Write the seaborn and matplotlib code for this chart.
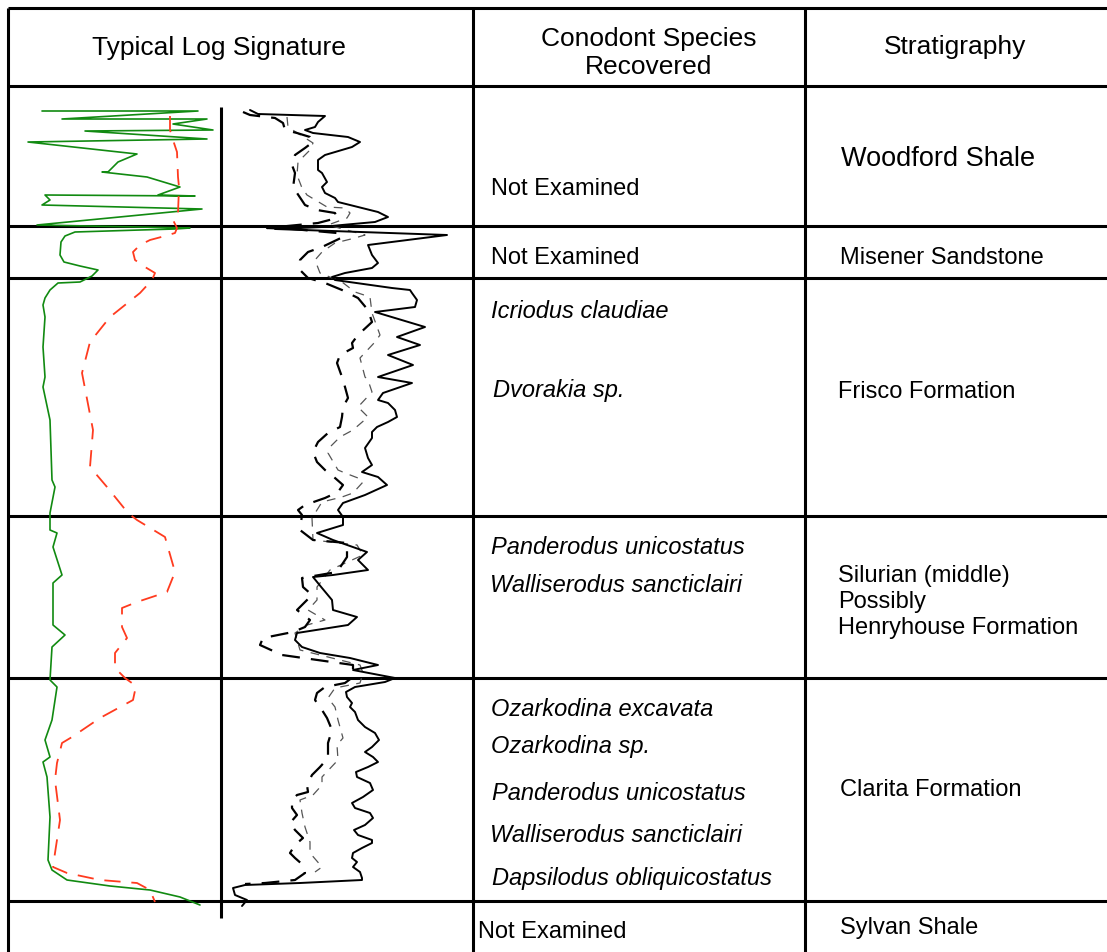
import matplotlib
matplotlib.use("Agg")
import matplotlib.pyplot as plt
import seaborn as sns
import pandas as pd

sns.set_theme(style="white")
plt.rcParams["font.family"] = ["Liberation Sans", "DejaVu Sans"]

# ---- table layout (figure units: pixels from top-left) ----
row_lines = [86, 226, 278, 516, 678, 901]
col_lines = [473, 805]
track_divider_x = 221
track_divider_span = (107, 918)

headers = ["Typical Log Signature", "Conodont Species\nRecovered", "Stratigraphy"]
header_x = [219, 649, 955]
header_y = [48, 53, 47]

species_text = [
    "Icriodus claudiae", "Dvorakia sp.",
    "Panderodus unicostatus", "Walliserodus sancticlairi",
    "Ozarkodina excavata", "Ozarkodina sp.", "Panderodus unicostatus",
    "Walliserodus sancticlairi", "Dapsilodus obliquicostatus",
]
species_x = [491, 493, 491, 490, 491, 491, 492, 490, 492]
species_y = [311, 391, 547, 585, 709, 747, 793, 835, 878]

not_examined_x = [491, 491, 478]
not_examined_y = [189, 258, 932]

strat_text = ["Woodford Shale", "Misener Sandstone", "Frisco Formation",
              "Silurian (middle)\nPossibly\nHenryhouse Formation",
              "Clarita Formation", "Sylvan Shale"]
strat_x = [841, 840, 838, 838, 840, 840]
strat_y = [159, 258, 392, 602, 790, 928]
strat_size = [19.5, 17, 17, 17, 17, 17]

# ---- log curves: (depth, reading) ----
# gamma ray (green, left track)
gr_depth = [111, 111, 119, 119, 124, 130, 131, 139, 142, 154, 162, 172, 172, 177,
            187, 195, 196, 195, 200, 205, 209, 225, 228, 229, 230, 232, 236, 242,
            255, 262, 266, 270, 276, 282, 283, 290, 298, 305, 317, 347, 377, 387,
            420, 480, 487, 513, 530, 533, 547, 575, 583, 625, 635, 647, 680, 687,
            720, 740, 757, 762, 777, 817, 860, 870, 880, 886, 890, 897, 905]
gr_value = [42, 198, 62, 207, 173, 213, 85, 207, 28, 137, 118, 108, 102, 147,
            180, 158, 195, 45, 50, 42, 202, 37, 190, 175, 140, 75, 65, 61,
            60, 64, 80, 98, 92, 80, 58, 50, 45, 43, 45, 43, 45, 43,
            50, 52, 55, 50, 50, 57, 53, 62, 53, 53, 65, 52, 50, 57,
            52, 45, 50, 43, 47, 50, 48, 52, 67, 110, 150, 180, 200]

# resistivity (red dashed, left track)
res_depth = [116, 130, 140, 152, 177, 187, 213, 220, 228, 233, 236, 240, 245, 252,
             260, 267, 273, 280, 293, 317, 342, 373, 430, 467, 487, 513, 520, 537,
             572, 592, 602, 608, 627, 638, 653, 668, 678, 686, 700, 718, 737, 743,
             763, 780, 820, 853, 867, 873, 880, 883, 890, 902]
res_value = [170, 170, 173, 177, 178, 179, 178, 173, 177, 175, 165, 150, 140, 133,
             135, 145, 155, 152, 140, 110, 90, 82, 93, 90, 107, 128, 137, 165,
             175, 167, 137, 122, 122, 127, 115, 115, 125, 136, 133, 100, 72, 62,
             57, 55, 60, 55, 53, 67, 100, 137, 150, 155]

# sonic (black solid, right track)
son_depth = [110, 114, 116, 122, 127, 130, 133, 137, 142, 147, 155, 160, 170, 173,
             182, 187, 193, 198, 202, 207, 212, 217, 222, 225, 227, 228, 229, 235,
             245, 255, 263, 268, 273, 277, 280, 288, 290, 293, 300, 307, 312, 327,
             337, 345, 355, 365, 377, 383, 393, 400, 403, 410, 417, 422, 427, 432,
             438, 448, 458, 465, 472, 477, 485, 495, 503, 510, 517, 525, 533, 540,
             552, 560, 570, 575, 577, 588, 600, 610, 617, 625, 633, 640, 647, 653,
             658, 665, 670, 678, 682, 687, 692, 697, 703, 707, 712, 720, 727, 733,
             740, 747, 752, 757, 762, 767, 772, 777, 783, 790, 797, 803, 808, 813,
             818, 825, 830, 835, 840, 843, 848, 853, 858, 862, 867, 872, 878, 880,
             883, 885, 888, 895, 900, 906]
son_value = [250, 258, 325, 318, 315, 305, 313, 348, 360, 352, 325, 318, 318, 322,
             327, 322, 325, 335, 338, 358, 378, 388, 375, 342, 322, 300, 275, 447,
             368, 372, 378, 372, 345, 332, 335, 392, 410, 412, 417, 415, 375, 425,
             397, 420, 388, 413, 378, 412, 383, 378, 388, 395, 397, 388, 377, 372,
             372, 365, 368, 372, 362, 378, 387, 365, 343, 338, 343, 343, 317, 333,
             367, 358, 368, 333, 313, 322, 332, 333, 357, 348, 297, 295, 302, 320,
             350, 378, 353, 395, 385, 355, 346, 347, 352, 350, 355, 358, 365, 375,
             379, 372, 365, 373, 378, 368, 356, 357, 370, 373, 363, 352, 355, 370,
             373, 365, 354, 358, 372, 372, 362, 353, 352, 357, 353, 360, 362, 362,
             300, 245, 233, 235, 247, 242]

# density (black dashed, right track)
den_depth = [112, 115, 118, 123, 130, 133, 137, 142, 148, 155, 165, 173, 188, 193,
             205, 210, 213, 218, 223, 228, 229, 233, 237, 247, 252, 260, 270, 278,
             283, 290, 298, 310, 322, 335, 343, 348, 355, 363, 377, 387, 398, 407,
             417, 427, 433, 442, 452, 462, 470, 478, 485, 492, 498, 505, 510, 515,
             530, 540, 543, 557, 572, 578, 587, 595, 610, 620, 627, 632, 638, 645,
             655, 665, 677, 683, 687, 693, 700, 710, 718, 730, 743, 758, 767, 775,
             785, 792, 795, 800, 808, 815, 823, 830, 838, 845, 853, 858, 865, 873,
             880, 883, 884]
den_value = [243, 250, 275, 283, 285, 297, 310, 313, 305, 295, 292, 295, 293, 297,
             305, 317, 335, 337, 318, 267, 292, 337, 343, 322, 308, 300, 300, 308,
             325, 342, 358, 368, 372, 358, 352, 353, 340, 337, 342, 345, 348, 343,
             342, 340, 328, 318, 313, 317, 325, 335, 343, 338, 325, 305, 298, 302,
             300, 313, 347, 347, 337, 302, 303, 312, 297, 310, 305, 293, 263, 260,
             282, 353, 353, 345, 325, 317, 315, 322, 327, 332, 328, 328, 320, 312,
             307, 308, 297, 292, 292, 297, 290, 295, 303, 295, 290, 295, 303, 305,
             295, 265, 245]

# neutron (grey dashed, right track)
neu_depth = [117, 127, 143, 150, 162, 175, 188, 195, 207, 208, 213, 218, 225, 235,
             238, 243, 252, 260, 273, 282, 292, 297, 313, 335, 342, 358, 377, 380,
             392, 407, 417, 430, 437, 447, 453, 470, 473, 478, 482, 493, 497, 502,
             518, 540, 545, 555, 570, 587, 600, 610, 620, 625, 633, 650, 665, 673,
             683, 688, 698, 707, 720, 738, 745, 760, 777, 785, 795, 800, 813, 827,
             842, 853, 867, 872]
neu_value = [287, 288, 313, 310, 298, 297, 302, 307, 327, 345, 350, 347, 328, 365,
             355, 335, 322, 315, 320, 342, 355, 370, 372, 380, 375, 360, 365, 368,
             372, 358, 368, 353, 340, 330, 328, 338, 345, 358, 363, 353, 342, 322,
             312, 313, 357, 363, 330, 317, 317, 308, 325, 307, 295, 300, 360, 363,
             360, 335, 328, 335, 338, 343, 337, 338, 322, 322, 313, 300, 302, 305,
             310, 310, 322, 315]

W, H = 1107, 952
fig = plt.figure(figsize=(W / 100, H / 100), dpi=100)
ax = fig.add_axes([0, 0, 1, 1])

# ---- grid of the table ----
frame_lw = 2.2
ax.hlines(8, 8, W, color="black", lw=frame_lw)
ax.vlines(8, 8, H, color="black", lw=frame_lw)
ax.hlines(row_lines, 8, W, color="black", lw=frame_lw)
ax.vlines(col_lines, 8, H, color="black", lw=frame_lw)
ax.vlines(track_divider_x, *track_divider_span, color="black", lw=frame_lw)

# ---- log curves ----
curve_kw = dict(ax=ax, sort=False, estimator=None, legend=False, orient="y",
                solid_joinstyle="round", solid_capstyle="round",
                dash_joinstyle="round")
sns.lineplot(data=pd.DataFrame({"v": gr_value, "d": gr_depth}), x="v", y="d",
             color="#118a11", lw=1.2, **curve_kw)
sns.lineplot(data=pd.DataFrame({"v": res_value, "d": res_depth}), x="v", y="d",
             color="#ff3b1f", lw=1.3, linestyle=(0, (9, 6)), **curve_kw)
sns.lineplot(data=pd.DataFrame({"v": neu_value, "d": neu_depth}), x="v", y="d",
             color="#555555", lw=0.9, linestyle=(0, (7, 6)), **curve_kw)
sns.lineplot(data=pd.DataFrame({"v": den_value, "d": den_depth}), x="v", y="d",
             color="black", lw=1.6, linestyle=(0, (8, 5)), **curve_kw)
sns.lineplot(data=pd.DataFrame({"v": son_value, "d": son_depth}), x="v", y="d",
             color="black", lw=1.4, **curve_kw)
ax.set_xlim(0, W)
ax.set_ylim(H, 0)
ax.axis("off")

# ---- text ----
for t, x, y in zip(headers, header_x, header_y):
    ax.text(x, y, t, ha="center", va="center", fontsize=19, linespacing=1.2,
            color="black")

for x, y in zip(not_examined_x, not_examined_y):
    ax.text(x, y, "Not Examined", ha="left", va="center", fontsize=17, color="black")

for t, x, y in zip(species_text, species_x, species_y):
    ax.text(x, y, t, ha="left", va="center", fontsize=17, style="italic",
            color="black")

for t, x, y, s in zip(strat_text, strat_x, strat_y, strat_size):
    ax.text(x, y, t, ha="left", va="center", fontsize=s, linespacing=1.22,
            color="black")

fig.savefig("out.png", dpi=100)
